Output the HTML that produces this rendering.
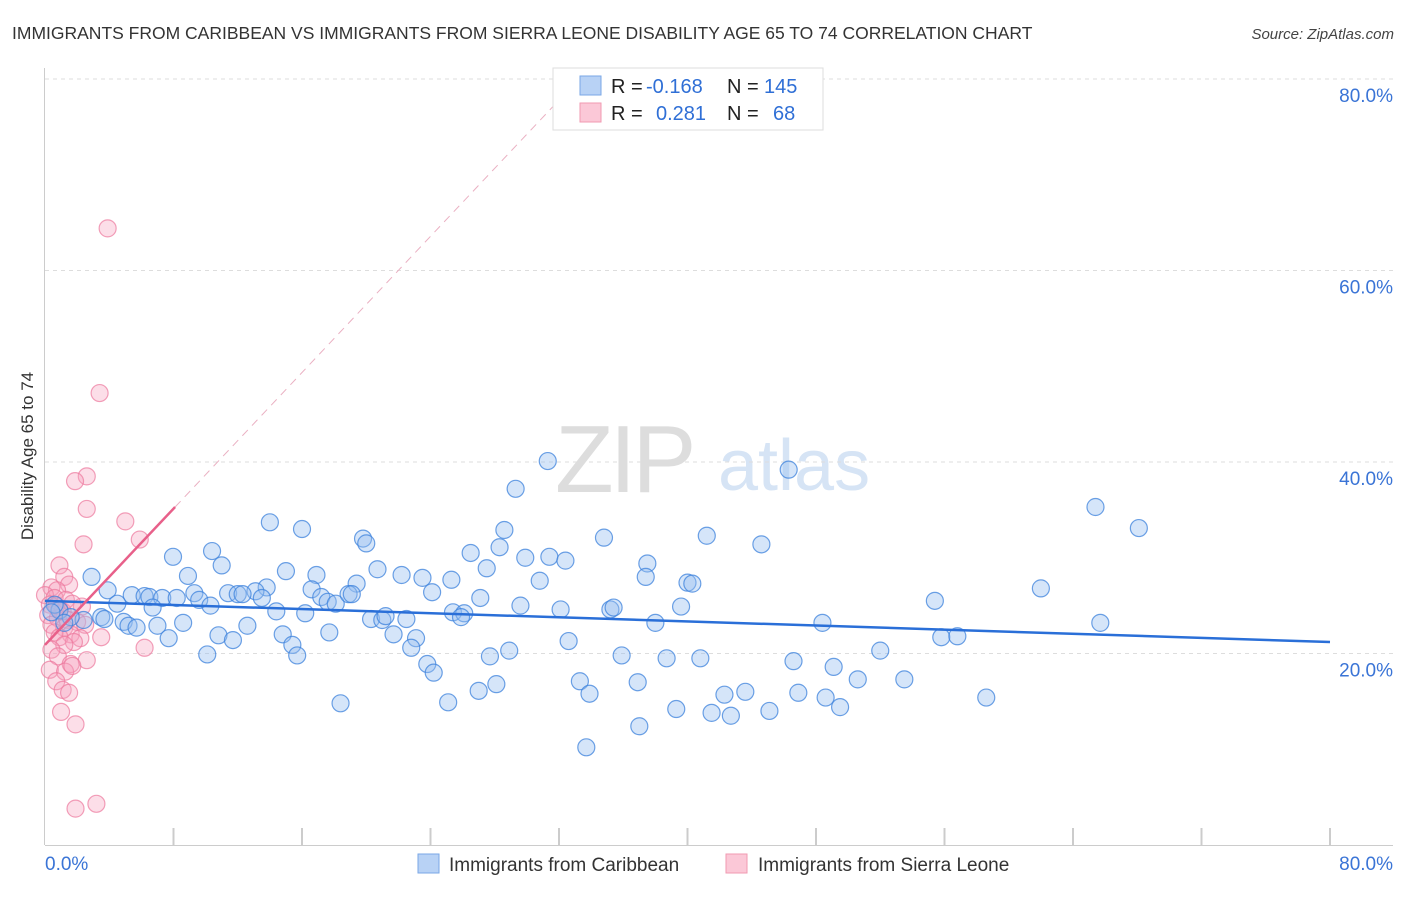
<!DOCTYPE html>
<html><head><meta charset="utf-8"><style>
body{margin:0;background:#fff;font-family:"Liberation Sans",sans-serif;}
svg text{font-family:"Liberation Sans",sans-serif;}
</style></head><body>
<svg id="chart" width="1406" height="892" xmlns="http://www.w3.org/2000/svg">
<text x="12" y="39" font-size="17.5" fill="#333">IMMIGRANTS FROM CARIBBEAN VS IMMIGRANTS FROM SIERRA LEONE DISABILITY AGE 65 TO 74 CORRELATION CHART</text>
<text x="1394" y="39" font-size="15" fill="#444" font-style="italic" text-anchor="end">Source: ZipAtlas.com</text>
<g>
<text x="555" y="492" font-size="96" fill="#ddd" font-family="Liberation Serif" letter-spacing="-4">ZIP</text>
<text x="718" y="490" font-size="72" fill="#d6e4f5">atlas</text>
</g>
<g id="grid"></g>
<g id="axes"></g>
<g id="marks"></g>
<text transform="translate(33,456) rotate(-90)" font-size="17" fill="#333" text-anchor="middle">Disability Age 65 to 74</text>
<g>
<rect x="553" y="68" width="270" height="62" fill="#fff" stroke="#ddd"/>
<rect x="580" y="76" width="21" height="19" fill="#b8d2f5" stroke="#7aa7e6"/>
<rect x="580" y="103" width="21" height="19" fill="#fbc8d7" stroke="#f09ab2"/>
<text x="611" y="93" font-size="20" fill="#222">R = </text><text x="646" y="93" font-size="20" fill="#2f6fd6">-0.168</text>
<text x="727" y="93" font-size="20" fill="#222">N = </text><text x="764" y="93" font-size="20" fill="#2f6fd6">145</text>
<text x="611" y="120" font-size="20" fill="#222">R = </text><text x="656" y="120" font-size="20" fill="#2f6fd6">0.281</text>
<text x="727" y="120" font-size="20" fill="#222">N = </text><text x="773" y="120" font-size="20" fill="#2f6fd6">68</text>
</g>
<g>
<rect x="418" y="854" width="21" height="19" fill="#b8d2f5" stroke="#7aa7e6"/>
<text x="449" y="871" font-size="19" fill="#333">Immigrants from Caribbean</text>
<rect x="726" y="854" width="21" height="19" fill="#fbc8d7" stroke="#f09ab2"/>
<text x="758" y="871" font-size="19" fill="#333">Immigrants from Sierra Leone</text>
</g>
</svg>
<script>
const blueX=[31.3,46.3,29.3,65.4,68.1,14.0,16.0,28.6,19.8,20.0,34.8,41.2,44.6,10.4,7.97,11.0,26.5,28.3,29.9,31.4,32.4,37.5,20.7,15.0,16.9,2.9,8.9,22.2,23.5,25.3,27.5,30.8,37.4,40.0,40.3,62.0,19.4,13.8,13.1,24.1,16.6,3.9,5.4,6.2,6.5,7.3,8.2,9.3,9.6,11.4,12.0,12.3,13.5,17.2,17.6,18.1,18.9,19.1,27.1,29.6,4.5,6.7,10.3,14.4,16.2,25.4,26.1,25.9,32.1,35.2,35.4,39.6,55.4,20.3,21.0,21.2,22.5,3.5,3.7,2.4,4.9,5.2,5.7,7.0,8.6,12.6,38.0,48.4,65.7,10.8,11.7,7.7,14.8,17.7,21.7,23.1,32.6,55.8,56.8,15.4,22.8,15.7,10.1,27.7,28.9,35.9,38.7,40.8,46.6,52.0,23.8,24.2,49.1,50.6,53.5,33.3,36.9,28.1,27.0,33.9,42.3,43.6,46.9,48.6,58.6,18.4,25.1,39.3,49.5,41.5,42.7,45.1,37.0,33.7,0.9,0.6,0.4,1.6,1.2];
const blueY=[40.1,39.2,37.2,35.3,33.1,33.7,33.0,32.9,32.0,31.5,32.1,32.3,31.4,30.7,30.1,29.2,30.5,31.1,30.0,30.1,29.7,29.4,28.8,28.6,28.2,28.0,28.1,28.2,27.9,27.7,28.9,27.6,28.0,27.4,27.3,26.8,27.3,26.9,26.5,26.4,26.7,26.6,26.1,26.0,25.9,25.8,25.8,26.3,25.6,26.3,26.2,26.2,25.8,25.9,25.4,25.2,26.2,26.2,25.8,25.0,25.2,24.8,25.0,24.4,24.2,24.3,24.2,23.8,24.6,24.6,24.8,24.9,25.5,23.6,23.5,23.9,23.6,23.8,23.6,23.5,23.3,22.9,22.7,22.9,23.2,22.9,23.2,23.2,23.2,21.9,21.4,21.6,22.0,22.2,22.0,21.6,21.3,21.7,21.8,20.9,20.6,19.8,19.9,19.7,20.3,19.8,19.5,19.5,19.2,20.3,18.9,18.0,18.6,17.3,17.3,17.1,17.0,16.8,16.1,15.8,15.7,16.0,15.9,15.4,15.4,14.8,14.9,14.2,14.4,13.8,13.5,14.0,12.4,10.2,24.5,25.1,24.3,23.8,23.2];
const pinkX=[3.9,3.4,2.6,1.87,2.6,5.0,5.9,2.4,0.9,1.2,1.5,0.4,0.75,0,0.6,0.3,2.3,1.1,0.2,0.8,1.4,2.0,0.4,1.2,2.5,0.6,1.6,0.9,2.2,3.5,1.8,1.2,6.2,0.4,0.8,2.6,1.6,0.3,1.25,1.7,0.7,1.1,1.5,1.0,1.9,1.9,3.2,1.3,1.7,0.7,0.9];
const pinkY=[64.4,47.2,38.5,38.0,35.1,33.8,31.9,31.4,29.2,28.0,27.2,26.9,26.6,26.1,25.8,25.1,24.9,24.4,24.0,23.7,23.5,23.3,23.0,22.7,23.0,22.2,22.0,21.7,21.6,21.7,21.2,20.9,20.6,20.4,19.7,19.3,18.9,18.3,18.1,18.7,17.1,16.2,15.9,13.9,12.6,3.8,4.3,25.6,25.2,25.0,24.6];
const blueTrend=[25.5,21.2];
const pinkTrend=[20.9,35.3];
const yTicks=[20,40,60,80];
const xTickLabels=["0.0%","80.0%"];

const NS="http://www.w3.org/2000/svg";
const X=v=>45+v/80*1285;
const Y=v=>845-v/20*191.5;
function mk(tag,attrs,parent){const e=document.createElementNS(NS,tag);for(const k in attrs)e.setAttribute(k,attrs[k]);parent.appendChild(e);return e;}
const grid=document.getElementById('grid'),axes=document.getElementById('axes'),marks=document.getElementById('marks');
yTicks.forEach(t=>{
  const l=mk('line',{x1:45,x2:1393,y1:Y(t),y2:Y(t),stroke:'#ddd','stroke-dasharray':'4,4'},grid);
  
  
  const tx=mk('text',{x:1393,y:Y(t)+23,'font-size':19,fill:'#3a74d6','text-anchor':'end'},axes);
  tx.textContent=t.toFixed(1)+'%';
  
  
});
const ya=mk('line',{x1:44.5,x2:44.5,y1:68,y2:845,stroke:'#ccc'},axes);


const xa=mk('line',{x1:45,x2:1393,y1:845.5,y2:845.5,stroke:'#ccc'},axes);


for(let i=1;i<=10;i++){
  const t=mk('line',{x1:X(i*8),x2:X(i*8),y1:828,y2:845,stroke:'#ccc','stroke-width':2},axes);
  
  
}
const xl0=mk('text',{x:45,y:870,'font-size':19,fill:'#3a74d6'},axes);xl0.textContent=xTickLabels[0];


const xl1=mk('text',{x:1393,y:870,'font-size':19,fill:'#3a74d6','text-anchor':'end'},axes);xl1.textContent=xTickLabels[1];



pinkX.forEach((x,i)=>{
  const c=mk('circle',{cx:X(x),cy:Y(pinkY[i]),r:8.5,fill:'rgba(246,160,188,0.35)',stroke:'rgba(236,120,156,0.7)','stroke-width':1.2},marks);
  
  
});
blueX.forEach((x,i)=>{
  const c=mk('circle',{cx:X(x),cy:Y(blueY[i]),r:8.5,fill:'rgba(150,190,240,0.4)',stroke:'rgba(60,130,220,0.75)','stroke-width':1.2},marks);
  
  
});
const bt=mk('line',{x1:X(0),y1:Y(blueTrend[0]),x2:X(80),y2:Y(blueTrend[1]),stroke:'#2a6fd8','stroke-width':2.5},marks);


const slope=(pinkTrend[1]-pinkTrend[0])/8.1;
const pt=mk('line',{x1:X(0),y1:Y(pinkTrend[0]),x2:X(8.1),y2:Y(pinkTrend[1]),stroke:'#e8608a','stroke-width':2.5},marks);


const pd=mk('line',{x1:X(8.1),y1:Y(pinkTrend[1]),x2:X(32.1),y2:Y(pinkTrend[0]+slope*32.1),stroke:'#eab0c2','stroke-width':1,'stroke-dasharray':'8,6'},marks);


</script>
</body></html>
